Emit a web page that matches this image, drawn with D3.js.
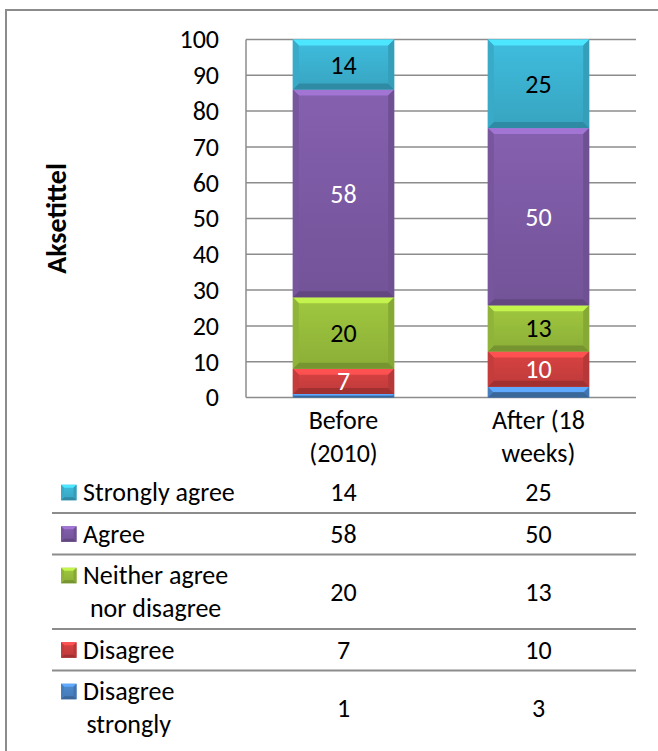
<!DOCTYPE html>
<html>
<head>
<meta charset="utf-8">
<script src="https://cdn.jsdelivr.net/npm/d3@7"></script>
<style>
  body { margin: 0; background: #fff; }
  text { font-family: Carlito, Lato, sans-serif; }
</style>
</head>
<body>
<div id="chart"></div>
<script>
// Data
const categories = ["Before (2010)", "After (18 weeks)"];
const series = ["Disagree strongly", "Disagree", "Neither agree nor disagree", "Agree", "Strongly agree"];
const before = [1, 7, 20, 58, 14];
const after = [3, 10, 13, 50, 25];
const yTicks = [0, 10, 20, 30, 40, 50, 60, 70, 80, 90, 100];
const axisTitle = "Aksetittel";

// Colours per series (bottom to top) and label colour inside bars
const colors = ["#4A84C6", "#CF3F3F", "#98BE3C", "#7E5BA6", "#3CB3D2"];
const labelColors = ["#fff", "#fff", "#000", "#fff", "#000"];

const width = 658, height = 751;
const plot = {left: 246, right: 636, top: 39.5, bottom: 397.5};
const fontSize = 26;

const svg = d3.select("#chart").append("svg")
  .attr("width", width)
  .attr("height", height);

// Outer frame (runs off the right and bottom edges like the reference)
svg.append("rect")
  .attr("x", 6).attr("y", 10)
  .attr("width", 700).attr("height", 800)
  .attr("fill", "none")
  .attr("stroke", "#8c8c8c")
  .attr("stroke-width", 2);

// Table rows built from the arrays
const rows = series.map((s, i) => ({name: s, color: colors[i], values: [before[i], after[i]]}));

// Stack (normalised to 100 like Excel's percent bars)
const stackRows = categories.map((c, j) => {
  const r = {cat: c};
  series.forEach((s, i) => { r[s] = j === 0 ? before[i] : after[i]; });
  return r;
});
const stacked = d3.stack().keys(series).offset(d3.stackOffsetExpand)(stackRows);

const x = d3.scaleBand()
  .domain(categories)
  .range([plot.left, plot.right])
  .paddingInner(0.48)
  .paddingOuter(0.24);

const y = d3.scaleLinear()
  .domain([0, 100])
  .range([plot.bottom, plot.top]);

// Gridlines
svg.append("g")
  .selectAll("line")
  .data(yTicks)
  .join("line")
  .attr("x1", plot.left).attr("x2", plot.right)
  .attr("y1", d => y(d)).attr("y2", d => y(d))
  .attr("stroke", "#8c8c8c")
  .attr("stroke-width", 1.5);

svg.append("line")
  .attr("x1", plot.left).attr("x2", plot.left)
  .attr("y1", y(100)).attr("y2", y(0))
  .attr("stroke", "#8c8c8c")
  .attr("stroke-width", 1.5);

// Y axis labels
const yAxis = svg.append("g")
  .attr("transform", `translate(${plot.left},0)`)
  .call(d3.axisLeft(y).tickValues(yTicks).tickSize(0).tickPadding(27));
yAxis.select(".domain").remove();
yAxis.selectAll("text")
  .attr("font-family", "Carlito, Lato, sans-serif")
  .attr("font-size", fontSize)
  .attr("fill", "#000");

svg.append("text")
  .attr("transform", `translate(56,${(plot.top + plot.bottom) / 2}) rotate(-90)`)
  .attr("text-anchor", "middle")
  .attr("dy", "0.35em")
  .attr("font-weight", "bold")
  .attr("font-size", 28)
  .text(axisTitle);

// Bevelled box helper
const defs = svg.append("defs");
colors.forEach((c, i) => {
  const g = defs.append("linearGradient")
    .attr("id", "face" + i)
    .attr("x1", 0).attr("y1", 0).attr("x2", 0).attr("y2", 1);
  g.append("stop").attr("offset", "0%").attr("stop-color", d3.color(c).brighter(0.15));
  g.append("stop").attr("offset", "100%").attr("stop-color", d3.color(c).darker(0.25));
});

function bevel(g, x0, y0, w, h, i, b) {
  const c = d3.color(colors[i]);
  b = Math.min(b, h / 2);
  g.append("rect")
    .attr("x", x0).attr("y", y0).attr("width", w).attr("height", h)
    .attr("fill", `url(#face${i})`);
  const poly = (pts, fill) => g.append("polygon")
    .attr("points", pts.map(p => p.join(",")).join(" "))
    .attr("fill", fill);
  poly([[x0, y0], [x0 + w, y0], [x0 + w - b, y0 + b], [x0 + b, y0 + b]], c.brighter(0.7));
  poly([[x0, y0 + h], [x0 + w, y0 + h], [x0 + w - b, y0 + h - b], [x0 + b, y0 + h - b]], c.darker(0.7));
  poly([[x0, y0], [x0 + b, y0 + b], [x0 + b, y0 + h - b], [x0, y0 + h]], c.darker(0.15));
  poly([[x0 + w, y0], [x0 + w - b, y0 + b], [x0 + w - b, y0 + h - b], [x0 + w, y0 + h]], c.darker(0.35));
}

// Bars
const barG = svg.append("g");
stacked.forEach((layer, i) => {
  layer.forEach((d, j) => {
    const cat = categories[j];
    const y1 = y(d[1] * 100), y0 = y(d[0] * 100);
    bevel(barG, x(cat), y1, x.bandwidth(), y0 - y1, i, 6);
  });
});

// Bar value labels
stacked.forEach((layer, i) => {
  layer.forEach((d, j) => {
    const v = j === 0 ? before[i] : after[i];
    if (v < 5) return;
    const yc = (y(d[1] * 100) + y(d[0] * 100)) / 2;
    svg.append("text")
      .attr("x", x(categories[j]) + x.bandwidth() / 2)
      .attr("y", yc)
      .attr("dy", "0.35em")
      .attr("text-anchor", "middle")
      .attr("font-size", fontSize)
      .attr("fill", labelColors[i])
      .text(v);
  });
});

// Word wrap by measured width
const measure = svg.append("text").attr("font-size", fontSize).attr("visibility", "hidden");
function wrap(str, maxW) {
  const words = str.split(" ");
  const lines = [];
  let cur = "";
  words.forEach(w => {
    const t = cur ? cur + " " + w : w;
    measure.text(t);
    if (cur && measure.node().getComputedTextLength() > maxW) {
      lines.push(cur);
      cur = w;
    } else {
      cur = t;
    }
  });
  lines.push(cur);
  return lines;
}
function textWidth(s) {
  measure.text(s);
  return measure.node().getComputedTextLength();
}

const lineH = 33;

// Category labels
categories.forEach(c => {
  const lines = wrap(c, 125);
  lines.forEach((l, k) => {
    svg.append("text")
      .attr("x", x(c) + x.bandwidth() / 2)
      .attr("y", 420 + k * lineH)
      .attr("dy", "0.35em")
      .attr("text-anchor", "middle")
      .attr("font-size", fontSize)
      .text(l);
  });
});

// Data table (top row = last series)
const tableRows = rows.slice().reverse();
let rowTop = 471.5;
const pad = 8.5;
const tableG = svg.append("g");
tableRows.forEach((r, k) => {
  const lines = wrap(r.name, 170);
  const h = pad + lines.length * lineH;
  const firstC = rowTop + pad / 2 + lineH / 2;
  const mid = rowTop + h / 2;

  // legend key
  bevel(tableG, 61, firstC - 7.5, 15.5, 15.5, series.indexOf(r.name), 3);

  const w0 = textWidth(lines[0]);
  lines.forEach((l, m) => {
    tableG.append("text")
      .attr("x", m === 0 ? 83 : 83 + w0 / 2)
      .attr("y", firstC + m * lineH)
      .attr("dy", "0.35em")
      .attr("text-anchor", m === 0 ? "start" : "middle")
      .attr("font-size", fontSize)
      .text(l);
  });

  r.values.forEach((v, j) => {
    tableG.append("text")
      .attr("x", x(categories[j]) + x.bandwidth() / 2)
      .attr("y", mid)
      .attr("dy", "0.35em")
      .attr("text-anchor", "middle")
      .attr("font-size", fontSize)
      .text(v);
  });

  rowTop += h;
  if (k < tableRows.length - 1) {
    tableG.append("line")
      .attr("x1", 52).attr("x2", plot.right)
      .attr("y1", rowTop).attr("y2", rowTop)
      .attr("stroke", "#8c8c8c")
      .attr("stroke-width", 2);
  }
});
measure.remove();
</script>
</body>
</html>
